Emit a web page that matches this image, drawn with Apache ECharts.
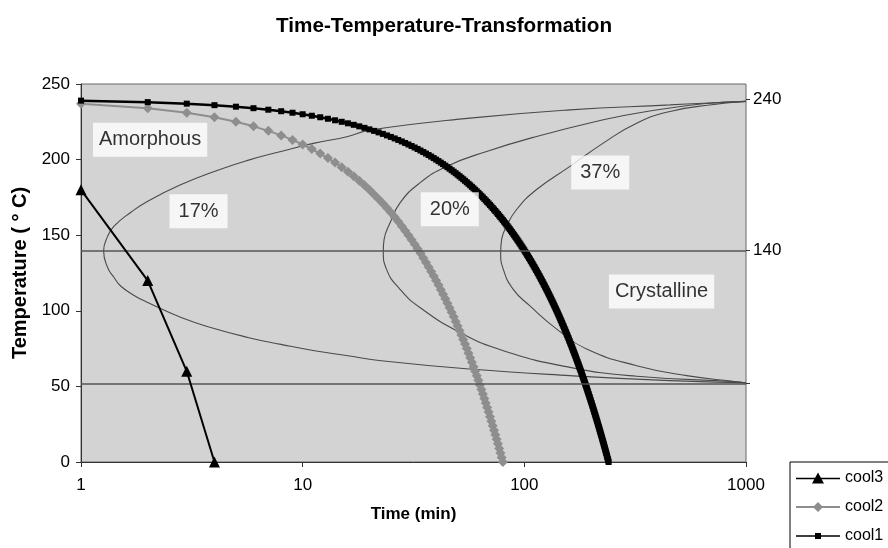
<!DOCTYPE html>
<html>
<head>
<meta charset="utf-8">
<title>Time-Temperature-Transformation</title>
<script src="https://cdn.jsdelivr.net/npm/echarts@6/dist/echarts.min.js"></script>
<style>
  html, body { margin: 0; padding: 0; background: #fff; }
  #chart { width: 888px; height: 548px; }
</style>
</head>
<body>
<div id="chart"></div>
<script>
// cooling curves, one point per minute
var cool1Time = [
  1,2,3,4,5,6,7,8,9,10,11,12,13,14,15,16,17,18,19,20,
  21,22,23,24,25,26,27,28,29,30,31,32,33,34,35,36,37,38,39,40,
  41,42,43,44,45,46,47,48,49,50,51,52,53,54,55,56,57,58,59,60,
  61,62,63,64,65,66,67,68,69,70,71,72,73,74,75,76,77,78,79,80,
  81,82,83,84,85,86,87,88,89,90,91,92,93,94,95,96,97,98,99,100,
  101,102,103,104,105,106,107,108,109,110,111,112,113,114,115,116,117,118,119,120,
  121,122,123,124,125,126,127,128,129,130,131,132,133,134,135,136,137,138,139,140,
  141,142,143,144,145,146,147,148,149,150,151,152,153,154,155,156,157,158,159,160,
  161,162,163,164,165,166,167,168,169,170,171,172,173,174,175,176,177,178,179,180,
  181,182,183,184,185,186,187,188,189,190,191,192,193,194,195,196,197,198,199,200,
  201,202,203,204,205,206,207,208,209,210,211,212,213,214,215,216,217,218,219,220,
  221,222,223,224,225,226,227,228,229,230,231,232,233,234,235,236,237,238,239,240
];
var cool1Temp = [
  239,238,237,236,235,234,233,232,231,230,229,228,227,226,225,224,223,222,221,220,
  219,218,217,216,215,214,213,212,211,210,209,208,207,206,205,204,203,202,201,200,
  199,198,197,196,195,194,193,192,191,190,189,188,187,186,185,184,183,182,181,180,
  179,178,177,176,175,174,173,172,171,170,169,168,167,166,165,164,163,162,161,160,
  159,158,157,156,155,154,153,152,151,150,149,148,147,146,145,144,143,142,141,140,
  139,138,137,136,135,134,133,132,131,130,129,128,127,126,125,124,123,122,121,120,
  119,118,117,116,115,114,113,112,111,110,109,108,107,106,105,104,103,102,101,100,
  99,98,97,96,95,94,93,92,91,90,89,88,87,86,85,84,83,82,81,80,
  79,78,77,76,75,74,73,72,71,70,69,68,67,66,65,64,63,62,61,60,
  59,58,57,56,55,54,53,52,51,50,49,48,47,46,45,44,43,42,41,40,
  39,38,37,36,35,34,33,32,31,30,29,28,27,26,25,24,23,22,21,20,
  19,18,17,16,15,14,13,12,11,10,9,8,7,6,5,4,3,2,1,0
];
var cool2Time = [
  1,2,3,4,5,6,7,8,9,10,11,12,13,14,15,16,17,18,19,20,
  21,22,23,24,25,26,27,28,29,30,31,32,33,34,35,36,37,38,39,40,
  41,42,43,44,45,46,47,48,49,50,51,52,53,54,55,56,57,58,59,60,
  61,62,63,64,65,66,67,68,69,70,71,72,73,74,75,76,77,78,79,80
];
var cool2Temp = [
  237,234,231,228,225,222,219,216,213,210,207,204,201,198,195,192,189,186,183,180,
  177,174,171,168,165,162,159,156,153,150,147,144,141,138,135,132,129,126,123,120,
  117,114,111,108,105,102,99,96,93,90,87,84,81,78,75,72,69,66,63,60,
  57,54,51,48,45,42,39,36,33,30,27,24,21,18,15,12,9,6,3,0
];
var cool3Time = [1, 2, 3, 4];
var cool3Temp = [180, 120, 60, 0];

// transformation curves (17%, 20%, 37%), read from top (240) down to 52
var c17Time = [1000, 641, 454, 160.6, 56.8, 20.1, 16, 11.3, 7.98, 5.65, 3.99, 2.83, 2.0, 1.68, 1.41, 1.32, 1.265,
  1.32, 1.41, 1.51, 1.72, 2.0, 2.83, 3.99, 5.65, 7.98, 11.3, 16, 22.6, 56.8, 160.6, 454, 1000];
var c17Temp = [238.5, 237.3, 236.2, 232.9, 227.4, 219.5, 215.3, 210.9, 205.4, 199.5, 192.2, 183.5, 172.5, 165.2, 156, 149.4, 139.5,
  128.5, 122, 116.4, 110.5, 105.5, 95.6, 88.3, 82.4, 77.8, 73.6, 70.3, 67, 61.5, 57.1, 53.8, 52.3];
var c20Time = [1000, 641, 321, 227, 113.6, 67.6, 44.6, 33.8, 27.5, 24.8, 23.3, 23.1,
  23.9, 27.5, 33.8, 51.2, 80.4, 160.6, 321, 907, 1000];
var c20Temp = [238.5, 236.9, 230.7, 226.3, 215.3, 205.4, 195.5, 184.6, 171.4, 158.2, 147.2, 139.5,
  127.4, 114.2, 102.2, 85.7, 73.6, 62.6, 56.7, 53.1, 52.3];
var c37Time = [1000, 700, 454, 321, 227, 160.6, 113.6, 92.3, 83.2, 79, 78.2,
  80.4, 89.1, 106, 140, 191, 321, 540, 907, 1000];
var c37Temp = [238.5, 236.3, 231.8, 224.1, 210.9, 195.5, 180.2, 167, 156, 147.2, 138.4,
  127.4, 114.2, 103.2, 87.9, 74.7, 63.7, 57.1, 53.1, 52.3];

var guideTemps = [140, 52];
var rightTicks = [52, 140, 240];
var rightLabels = [140, 240];

var noteTexts = ['Amorphous', '17%', '20%', '37%', 'Crystalline'];
var noteTimes = [2.05, 3.39, 46.1, 220, 416];
var noteTemps = [213.1, 165.9, 167.2, 191.5, 112.8];

function pairs(xs, ys) {
  return xs.map(function (x, i) { return [x, ys[i]]; });
}

var font = '"Liberation Sans", Arial, Helvetica, sans-serif';
var myChart = echarts.init(document.getElementById('chart'));

function curve(name, xs, ys) {
  return {
    name: name,
    type: 'line',
    data: pairs(xs, ys),
    smooth: 0.5,
    symbol: 'none',
    silent: true,
    lineStyle: { color: '#4a4a4a', width: 1.1 },
    z: 2
  };
}

var c17 = curve('17%', c17Time, c17Temp);
c17.markLine = {
  silent: true,
  symbol: 'none',
  label: { show: false },
  lineStyle: { color: '#555', width: 1.5, type: 'solid' },
  data: guideTemps.map(function (t) { return { yAxis: t }; })
};

// legend icons: line with the series marker (Excel style, small square for cool1)
var legendIcons = {
  cool3: 'path://M0,5.2h44v1.6h-44z M22,0L28,11H16z',
  cool2: 'path://M0,4h44v2h-44z M22,0L27,5L22,10L17,5z',
  cool1: 'path://M0,2.2h44v1.6h-44z M19,0h6v6h-6z'
};

myChart.setOption({
  animation: false,
  backgroundColor: '#fff',
  textStyle: { fontFamily: font },
  title: {
    text: 'Time-Temperature-Transformation',
    left: 271,
    top: 11,
    textStyle: { fontSize: 20.7, fontWeight: 'bold', color: '#000', fontFamily: font }
  },
  grid: {
    left: 81,
    right: 142,
    top: 84,
    bottom: 86,
    show: true,
    backgroundColor: '#d3d3d3',
    borderColor: '#666',
    borderWidth: 1
  },
  legend: {
    data: ['cool3', 'cool2', 'cool1'].map(function (n) {
      return { name: n, icon: legendIcons[n] };
    }),
    orient: 'vertical',
    left: 790,
    top: 462,
    height: 90,
    padding: [8, 10, 12, 6],
    itemWidth: 44,
    itemHeight: 14,
    itemGap: 13,
    borderColor: '#000',
    borderWidth: 1,
    borderRadius: 0,
    textStyle: { fontSize: 16, color: '#000', fontFamily: font }
  },
  xAxis: {
    type: 'log',
    logBase: 10,
    min: 1,
    max: 1000,
    name: 'Time (min)',
    nameLocation: 'middle',
    nameGap: 44,
    nameTextStyle: { fontSize: 17, fontWeight: 'bold', color: '#000' },
    axisLine: { show: true, lineStyle: { color: '#333' } },
    axisTick: { show: true, length: 5, lineStyle: { color: '#333' } },
    axisLabel: {
      fontSize: 17, color: '#000', margin: 15,
      formatter: function (v) { return String(v); }
    },
    splitLine: { show: false },
    minorTick: { show: false }
  },
  yAxis: [{
    type: 'value',
    min: 0,
    max: 250,
    interval: 50,
    name: 'Temperature ( \u00b0 C)',
    nameLocation: 'middle',
    nameGap: 49,
    nameTextStyle: { fontSize: 20, fontWeight: 'bold', color: '#000' },
    axisLine: { show: true, lineStyle: { color: '#333' } },
    axisTick: { show: true, length: 5, lineStyle: { color: '#333' } },
    axisLabel: { fontSize: 17, color: '#000', margin: 11 },
    splitLine: { show: false }
  }, {
    type: 'value',
    min: 0,
    max: 250,
    position: 'right',
    axisLine: { show: false },
    axisTick: { show: true, length: 4, customValues: rightTicks, lineStyle: { color: '#333' } },
    axisLabel: { fontSize: 17, color: '#000', margin: 7, customValues: rightLabels },
    splitLine: { show: false }
  }],
  series: [
    c17,
    curve('20%', c20Time, c20Temp),
    curve('37%', c37Time, c37Temp),
    {
      name: 'cool2',
      type: 'line',
      data: pairs(cool2Time, cool2Temp),
      symbol: 'diamond',
      symbolSize: 10,
      showAllSymbol: true,
      itemStyle: { color: '#8e8e8e' },
      lineStyle: { color: '#8e8e8e', width: 2 },
      z: 3
    },
    {
      name: 'cool1',
      type: 'line',
      data: pairs(cool1Time, cool1Temp),
      symbol: 'rect',
      symbolSize: 6,
      showAllSymbol: true,
      itemStyle: { color: '#000' },
      lineStyle: { color: '#000', width: 2.5 },
      z: 4
    },
    {
      name: 'cool3',
      type: 'line',
      data: pairs(cool3Time, cool3Temp),
      symbol: 'triangle',
      symbolSize: 11,
      itemStyle: { color: '#000' },
      lineStyle: { color: '#000', width: 2 },
      z: 5
    },
    {
      name: 'notes',
      type: 'scatter',
      silent: true,
      symbolSize: 1,
      itemStyle: { color: 'rgba(0,0,0,0)' },
      data: noteTimes.map(function (t, i) {
        var txt = noteTexts[i];
        return {
          value: [t, noteTemps[i]],
          name: txt,
          label: { padding: txt.length < 4 ? [7, 9] : [7, 6] }
        };
      }),
      label: {
        show: true,
        position: 'inside',
        formatter: '{b}',
        fontSize: 20,
        color: '#000',
        backgroundColor: '#fff'
      },
      z: 6
    }
  ]
});
</script>
</body>
</html>
